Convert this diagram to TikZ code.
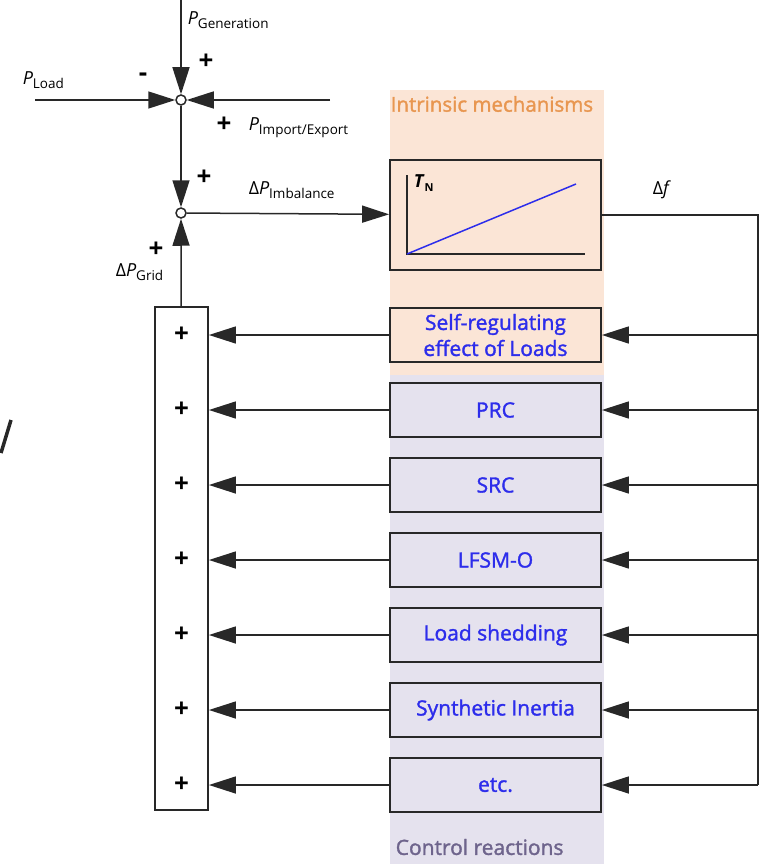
\documentclass[tikz,border=0pt]{standalone}
\usepackage{fontspec}
\setmainfont{Open Sans}
\newfontfamily\semifont{Open Sans}[FakeBold=1.6]
\usetikzlibrary{positioning, arrows.meta}

\definecolor{intrinsicbg}{RGB}{251,229,214}
\definecolor{controlbg}{RGB}{229,226,238}
\definecolor{ctrlblue}{RGB}{45,45,235}
\definecolor{intrinsictxt}{RGB}{232,150,80}
\definecolor{controltxt}{RGB}{110,100,140}
\definecolor{wire}{RGB}{40,40,40}

% power symbol with a small upright subscript
\newcommand{\Psym}[1]{\textit{P}\raisebox{-0.45ex}{\fontsize{13.5}{13.5}\selectfont #1}}

\begin{document}
\begin{tikzpicture}[x=1pt, y=-1pt, >={Triangle[length=27pt,width=17pt]}, line width=1.5pt, draw=wire]

  % Define block styles
  \tikzset{
    ctrlbox/.style={draw, line width=1.8pt, minimum width=211, minimum height=54,
      text=ctrlblue, font=\semifont\fontsize{21}{26}\selectfont, align=center},
    sumpt/.style={circle, draw, fill=white, inner sep=0pt, minimum size=10},
    sign/.style={font=\bfseries\fontsize{26}{26}\selectfont, inner sep=0pt},
    lbl/.style={font=\fontsize{18}{20}\selectfont, inner sep=0pt, anchor=west},
  }

  \useasboundingbox (0,0) rectangle (765,864);

  % Background bands
  \fill[intrinsicbg] (390,90) rectangle (604,375);
  \fill[controlbg] (390,375) rectangle (604,864);
  \node[font=\semifont\fontsize{20.5}{22}\selectfont, text=intrinsictxt, anchor=west, inner sep=0pt] at (390,104) {Intrinsic mechanisms};
  \node[font=\semifont\fontsize{21}{22}\selectfont, text=controltxt, anchor=west, inner sep=0pt] at (395,847) {Control reactions};

  % Summing points
  \node[sumpt] (s1) at (181,100) {};
  \node[sumpt] (s2) at (181,213) {};
  \coordinate (gen) at (181,0);
  \coordinate (load) at (35,100);
  \coordinate (imp) at (330,100);

  \draw[->] (gen) -- (s1);
  \draw[->] (load) -- (s1);
  \draw[->] (imp) -- (s1);
  \draw[->] (s1) -- (s2);

  \node[lbl] at (187,20) {\Psym{Generation}};
  \node[sign] at (206,62) {+};
  \node[lbl] at (22,80) {\Psym{Load}};
  \node[sign] at (143,77) {-};
  \node[sign] at (224,125) {+};
  \node[lbl] at (248,128) {\Psym{Import/Export}};
  \node[sign] at (204,178) {+};

  % Grid inertia block
  \node[draw, line width=1.8pt, minimum width=211, minimum height=110] (tn) at (495.5,215) {};
  \draw (407,175) -- (407,254) -- (585,254);
  \draw[ctrlblue] (407,254) -- (576,184);
  \node[lbl] at (413,183) {\textbf{\textit{T}}\raisebox{-0.45ex}{\fontsize{11}{11}\bfseries\selectfont N}};

  \draw[->] (s2) -- (tn);
  \node[lbl] at (248,190) {Δ\Psym{Imbalance}};

  % Frequency deviation feedback
  \coordinate[right=156pt of tn.east] (fb);
  \node[lbl] at (652,190) {Δ\textit{f}};

  % Reaction blocks
  \foreach \nm/\txt [count=\i from 0] in {selfreg/{Self-regulating\\effect of Loads}, prc/PRC, src/SRC,
      lfsm/LFSM-O, shed/Load shedding, inertia/Synthetic Inertia, etc/etc.}
    \node[ctrlbox] (\nm) at (495.5,335+75*\i) {\txt};

  % Summation block
  \node[draw, line width=1.8pt, minimum width=53, minimum height=503] (sum) at (181.5,558.5) {};

  \draw (tn.east) -- (fb) -- (fb |- etc.east);
  \foreach \nm in {selfreg, prc, src, lfsm, shed, inertia, etc} {
    \draw[->] (fb |- \nm.east) -- (\nm.east);
    \draw[->] (\nm.west) -- (sum.east |- \nm.west);
    \node[sign] at (sum.center |- \nm.west) {+};
  }

  \draw[->] (sum) -- (s2);
  \node[sign] at (156,250) {+};
  \node[lbl] at (115,272) {Δ\Psym{Grid}};

  % stroke at the left edge
  \draw[line width=3.5pt] (1,453) -- (11,420);

\end{tikzpicture}
\end{document}
